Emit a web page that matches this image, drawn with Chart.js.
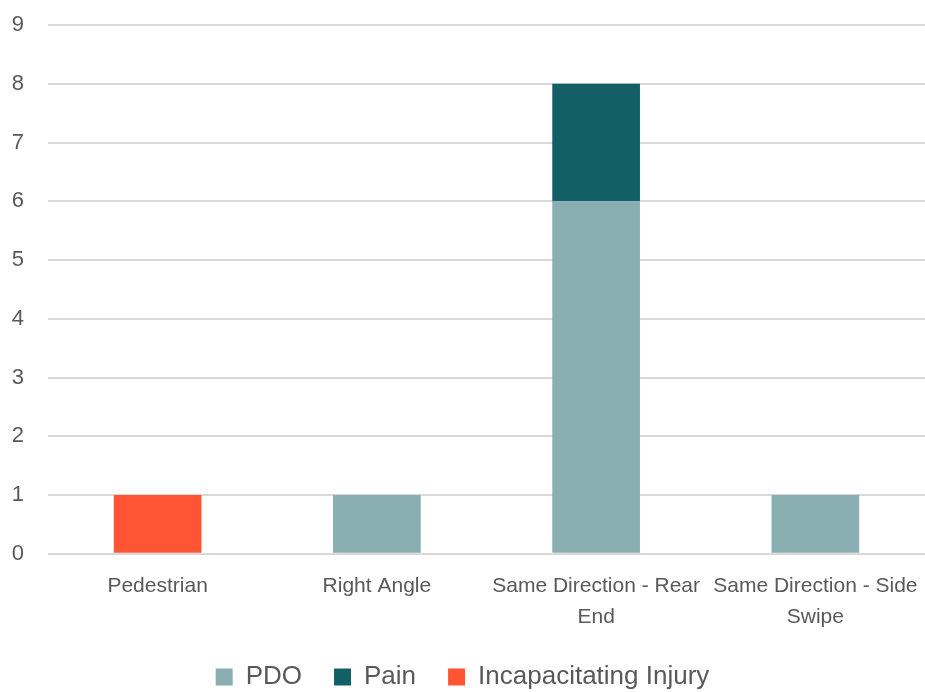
<!DOCTYPE html>
<html>
<head>
<meta charset="utf-8">
<script src="https://cdn.jsdelivr.net/npm/chart.js@4"></script>
<style>
  html, body { margin: 0; padding: 0; background: #fff; }
  #wrap { width: 925px; height: 692px; }
</style>
</head>
<body>
<div id="wrap"><canvas id="crash-chart" width="925" height="692"></canvas></div>
<script>
// Crash types and counts per severity
const categories = [
    'Pedestrian',
    'Right Angle',
    ['Same Direction - Rear', 'End'],
    ['Same Direction - Side', 'Swipe']
];
const pdoValues = [0, 1, 6, 1];
const painValues = [0, 0, 2, 0];
const incapValues = [1, 0, 0, 0];
const yTicks = [0, 1, 2, 3, 4, 5, 6, 7, 8, 9];

const textColor = '#595959';
const fontFamily = '"Liberation Sans Narrow", "Arial Narrow", "Liberation Sans", Arial, sans-serif';

const ctx = document.getElementById('crash-chart').getContext('2d');
const crashChart = new Chart(ctx, {
    type: 'bar',
    data: {
        labels: categories,
        datasets: [
            { label: 'PDO', data: pdoValues, backgroundColor: '#8AAFB3' },
            { label: 'Pain', data: painValues, backgroundColor: '#135F66' },
            { label: 'Incapacitating Injury', data: incapValues, backgroundColor: '#FF5535' }
        ]
    },
    options: {
        responsive: false,
        animation: false,
        layout: { padding: { left: 0, right: 0, top: 25, bottom: -8 } },
        datasets: {
            bar: { barPercentage: 0.4, categoryPercentage: 1.0 }
        },
        scales: {
            x: {
                stacked: true,
                grid: { display: false },
                border: { display: false },
                ticks: {
                    color: textColor,
                    font: { family: fontFamily, size: 21, lineHeight: 1.48 },
                    maxRotation: 0,
                    autoSkip: false,
                    padding: 9
                },
                // tighten the gap between the labels and the legend
                afterFit: axis => { axis.paddingLeft = 0; axis.paddingRight = 0; axis.height -= 10; }
            },
            y: {
                stacked: true,
                min: 0,
                max: 9,
                afterBuildTicks: axis => { axis.ticks = yTicks.map(v => ({ value: v })); },
                grid: { color: '#d9d9d9', lineWidth: 2, drawTicks: false },
                border: { display: false },
                ticks: {
                    color: textColor,
                    font: { family: fontFamily, size: 22 },
                    padding: 24
                },
                afterFit: axis => { axis.width = 48; axis.paddingTop = 0; axis.paddingBottom = 0; }
            }
        },
        plugins: {
            tooltip: { enabled: false },
            legend: {
                position: 'bottom',
                labels: {
                    color: textColor,
                    font: { family: fontFamily, size: 26 },
                    boxWidth: 17,
                    boxHeight: 17,
                    padding: 32
                }
            }
        }
    }
});
</script>
</body>
</html>
